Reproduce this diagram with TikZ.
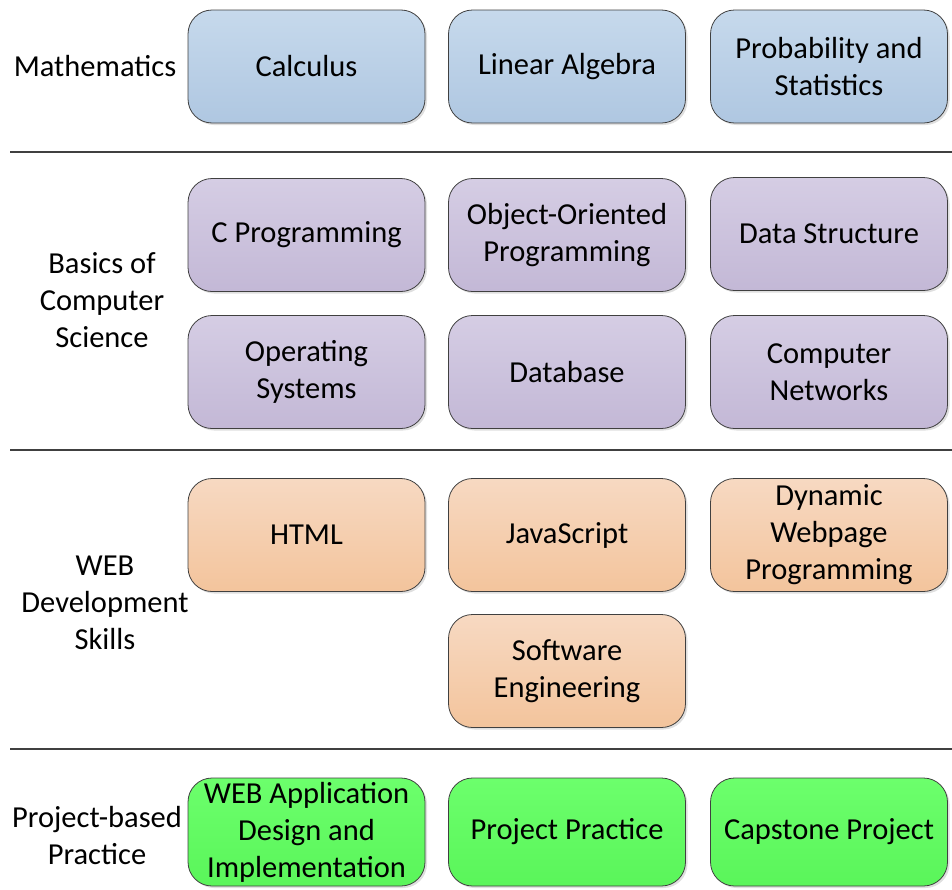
\documentclass[tikz,border=0pt]{standalone}
\usepackage{fontspec}
\setmainfont{Carlito}
\usetikzlibrary{positioning,shadows}

\definecolor{mathtop}{HTML}{C6D9EC}
\definecolor{mathbot}{HTML}{AFC7E1}
\definecolor{cstop}{HTML}{D5CDE4}
\definecolor{csbot}{HTML}{C3B8D6}
\definecolor{webtop}{HTML}{F7D9C2}
\definecolor{webbot}{HTML}{F3C49C}
\definecolor{prjtop}{HTML}{6CFF6C}
\definecolor{prjbot}{HTML}{5AF55A}
\definecolor{rule}{HTML}{404040}

\tikzset{
  course/.style={draw=rule, line width=0.8pt, rounded corners=24pt,
    minimum width=237pt, minimum height=113pt, align=center, inner sep=0pt,
    drop shadow={opacity=0.25, shadow xshift=2pt, shadow yshift=-2pt}},
  mathbox/.style={course, top color=mathtop, bottom color=mathbot},
  csbox/.style={course, top color=cstop, bottom color=csbot},
  webbox/.style={course, top color=webtop, bottom color=webbot},
  prjbox/.style={course, top color=prjtop, bottom color=prjbot, minimum height=108pt},
  area/.style={align=center},
  sep/.style={draw=rule, line width=1.6pt}
}

\begin{document}
\begin{tikzpicture}[x=1pt, y=-1pt, font=\fontsize{30.5}{37}\selectfont]
    \useasboundingbox (0,0) rectangle (952,889);

    % Mathematics
    \node[area] (lmath) at (95,66) {Mathematics};
    \node[mathbox] (calc) at (306.5,66.5) {Calculus};
    \node[mathbox] (linalg) at (567,66.5) {Linear Algebra};
    \node[mathbox] (prob) at (829,66.5) {Probability and\\Statistics};

    \draw[sep] (10,152) -- (952,152);

    % Basics of Computer Science
    \node[area] (lcs) at (102,300) {Basics of\\Computer\\Science};
    \node[csbox] (cprog) at (306.5,235) {C Programming};
    \node[csbox] (oop) at (567,235) {Object-Oriented\\Programming};
    \node[csbox] (ds) at (829,234) {Data Structure};
    \node[csbox] (os) at (306.5,372) {Operating\\Systems};
    \node[csbox] (db) at (567,372) {Database};
    \node[csbox] (net) at (829,372) {Computer\\Networks};

    \draw[sep] (10,450) -- (952,450);

    % WEB Development Skills
    \node[area] (lweb) at (105,603) {WEB\\Development\\Skills};
    \node[webbox] (html) at (306.5,535) {HTML};
    \node[webbox] (js) at (567,535) {JavaScript};
    \node[webbox] (dyn) at (829,535) {Dynamic\\Webpage\\Programming};
    \node[webbox] (se) at (567,671) {Software\\Engineering};

    \draw[sep] (10,749) -- (952,749);

    % Project-based Practice
    \node[area] (lprj) at (97,836) {Project-based\\Practice};
    \node[prjbox] (webapp) at (306.5,832) {WEB Application\\Design and\\Implementation};
    \node[prjbox] (pp) at (567,832) {Project Practice};
    \node[prjbox] (cap) at (829,832) {Capstone Project};
\end{tikzpicture}
\end{document}
